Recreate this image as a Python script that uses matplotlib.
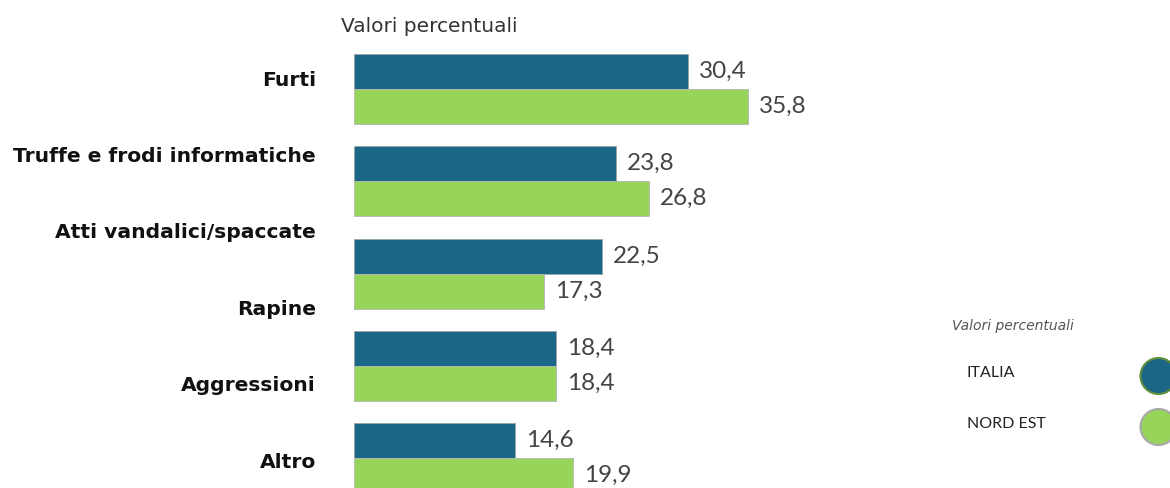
import matplotlib
matplotlib.use("Agg")
import matplotlib.pyplot as plt
from matplotlib.patches import Ellipse

plt.rcParams['font.family'] = ['Lato', 'DejaVu Sans']

categories = ['Furti', 'Truffe e frodi informatiche', 'Atti vandalici/spaccate',
              'Rapine', 'Aggressioni', 'Altro']
italia = [30.4, 23.8, 22.5, 18.4, 14.6]
nord_est = [35.8, 26.8, 17.3, 18.4, 19.9]
series_names = ['ITALIA', 'NORD EST']

c_it = '#1c6688'
c_ne = '#97d45a'

W, H = 1170, 488
fig = plt.figure(figsize=(W / 100, H / 100), dpi=100)

# axes: left edge at x=354px, 11 px per percentage point
ax_left = 354
ax_w = W - ax_left
ax = fig.add_axes([ax_left / W, 0, ax_w / W, 1])
ax.set_xlim(0, ax_w / 11.0)
# group boundary at 89px, step 92.25px
step = 92.25
ax.set_ylim((H - 89) / step, -89 / step)
ax.axis('off')

bh = 35 / step
for i, (a, b) in enumerate(zip(italia, nord_est)):
    ax.barh(i - bh / 2, a, height=bh, color=c_it, edgecolor='#9aa5aa', linewidth=0.6)
    ax.barh(i + bh / 2, b, height=bh, color=c_ne, edgecolor='#b5b5b5', linewidth=0.6)
    ax.text(a + 1.0, i - bh / 2, f'{a:.1f}'.replace('.', ','), va='center', ha='left',
            fontsize=17.5, color='#444444')
    ax.text(b + 1.0, i + bh / 2, f'{b:.1f}'.replace('.', ','), va='center', ha='left',
            fontsize=17.5, color='#444444')

# category labels (spaced independently from the bars, as in the source)
for i, c in enumerate(categories):
    y = 80 + 76.4 * i
    fig.text(316 / W, 1 - y / H, c, ha='right', va='center', fontsize=14.6,
             fontweight='bold', color='#111111', family='DejaVu Sans')

fig.text(341 / W, 1 - 26 / H, 'Valori percentuali', ha='left', va='center',
         fontsize=14.5, color='#333333', family='DejaVu Sans')

# legend
fig.text(952 / W, 1 - 326 / H, 'Valori percentuali', ha='left', va='center',
         fontsize=10, style='italic', color='#555555', family='DejaVu Sans')
for name, y, col, ec in zip(series_names, [373, 424], [c_it, c_ne], ['#5f8f3e', '#a8a8a8']):
    fig.text(967 / W, 1 - y / H, name, ha='left', va='center', fontsize=11.5, color='#222222')
    fig.add_artist(Ellipse((1158.5 / W, 1 - (y + 3) / H), 36 / W, 36 / H,
                           facecolor=col, edgecolor=ec, linewidth=1.5,
                           transform=fig.transFigure))

fig.savefig('out.png', dpi=100)
